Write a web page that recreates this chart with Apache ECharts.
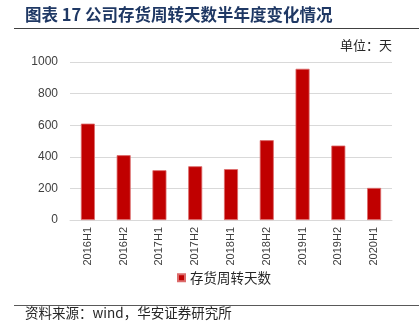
<!DOCTYPE html>
<html>
<head>
<meta charset="utf-8">
<script src="https://cdn.jsdelivr.net/npm/echarts@6/dist/echarts.min.js"></script>
<style>
  html, body { margin: 0; padding: 0; background: #fff; }
  #chart { width: 419px; height: 330px; }
</style>
</head>
<body>
<div id="chart"></div>
<script>
// Half-year periods and inventory turnover days
const periods = ['2016H1', '2016H2', '2017H1', '2017H2', '2018H1', '2018H2', '2019H1', '2019H2', '2020H1'];
const turnoverDays = [610, 410, 315, 340, 322, 505, 957, 471, 203];
const yTicks = [0, 200, 400, 600, 800, 1000];

const seriesName = '存货周转天数';
const titleText = '图表 17 公司存货周转天数半年度变化情况';
const unitText = '单位：天';
const sourceText = '资料来源：wind，华安证券研究所';

const cjk = '"Noto Sans CJK SC", "Noto Sans", sans-serif';
const latin = '"Liberation Sans", Arial, sans-serif';
const narrow = '"Liberation Sans Narrow", "Arial Narrow", "Liberation Sans", sans-serif';

const chart = echarts.init(document.getElementById('chart'), null, { renderer: 'canvas' });

chart.setOption({
  animation: false,
  backgroundColor: '#ffffff',
  grid: { left: 70, right: 27, top: 62, bottom: 110, containLabel: false },
  legend: {
    data: [seriesName],
    left: 172,
    top: 266,
    icon: 'rect',
    itemWidth: 7,
    itemHeight: 7,
    itemGap: 4,
    textStyle: { fontFamily: cjk, fontSize: 13.5, color: '#262626' }
  },
  xAxis: {
    type: 'category',
    data: periods,
    axisLine: { show: true, lineStyle: { color: '#d9d9d9', width: 1 } },
    axisTick: { show: false },
    axisLabel: {
      rotate: 90,
      margin: 7,
      fontFamily: narrow,
      fontSize: 11,
      color: '#404040'
    }
  },
  yAxis: {
    type: 'value',
    min: yTicks[0],
    max: yTicks[yTicks.length - 1],
    interval: yTicks[1] - yTicks[0],
    axisLine: { show: false },
    axisTick: { show: false },
    axisLabel: {
      margin: 12,
      fontFamily: latin,
      fontSize: 12,
      color: '#404040',
      formatter: (v) => String(v)
    },
    splitLine: { lineStyle: { color: '#d9d9d9', width: 1 } }
  },
  series: [{
    name: seriesName,
    type: 'bar',
    data: turnoverDays,
    barWidth: 14,
    itemStyle: { color: '#C00000', borderColor: '#DC6B6B', borderWidth: 0.8 }
  }],
  graphic: [
    {
      type: 'text',
      left: 25,
      top: 6,
      style: {
        text: titleText,
        fontFamily: cjk,
        fontWeight: 'bold',
        fontSize: 16.5,
        fill: '#1F3864'
      }
    },
    {
      type: 'line',
      shape: { x1: 14, y1: 28.5, x2: 419, y2: 28.5 },
      style: { stroke: '#404040', lineWidth: 1 }
    },
    {
      type: 'text',
      left: 340,
      top: 39,
      style: { text: unitText, fontFamily: cjk, fontSize: 13, fill: '#262626' }
    },
    {
      type: 'line',
      shape: { x1: 14, y1: 305.5, x2: 419, y2: 305.5 },
      style: { stroke: '#595959', lineWidth: 1 }
    },
    {
      type: 'text',
      left: 25,
      top: 306,
      style: { text: sourceText, fontFamily: cjk, fontSize: 13.5, fill: '#262626' }
    }
  ]
});
</script>
</body>
</html>
